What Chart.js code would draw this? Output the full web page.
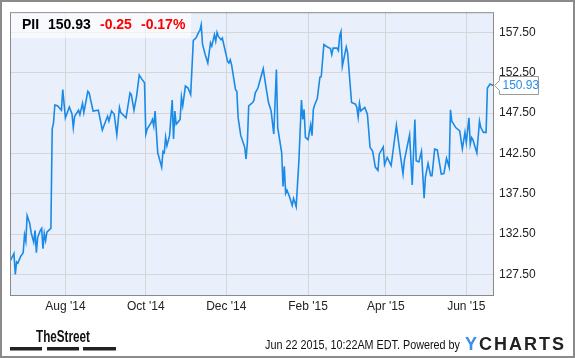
<!DOCTYPE html>
<html>
<head>
<meta charset="utf-8">
<script src="https://cdn.jsdelivr.net/npm/chart.js@4/dist/chart.umd.min.js"></script>
<style>
  html, body { margin: 0; padding: 0; background: #ffffff; }
  canvas { display: block; }
</style>
</head>
<body>
<canvas id="c" width="575" height="358"></canvas>
<script>
// ---- Data (days counted from Aug 1, 2014) ----
const days = [
  -42,-39,-38,-37,-36,-34,-32,-31,-30,-29,
  -27,-26,-24,-23,-22,-21,-19,-18,-17,-16,
  -15,-14,-12,-11,-10,-9,-8,-6,-3,-2,
  0,3,5,6,7,10,11,13,14,17,
  18,21,25,28,31,32,33,35,37,39,
  41,42,46,49,50,52,54,56,58,60,
  61,62,65,66,67,68,70,73,74,75,
  76,77,79,81,82,83,84,86,87,88,
  89,91,93,95,97,99,101,102,103,104,
  106,108,110,111,113,114,115,116,118,119,
  121,123,124,125,126,129,130,131,133,136,
  137,138,139,142,143,144,146,150,152,154,
  156,158,160,161,164,165,166,167,168,170,
  172,173,174,175,177,179,180,181,182,184,
  186,187,188,189,191,193,194,196,199,201,
  202,203,206,207,208,209,210,213,214,217,
  220,221,222,223,224,227,229,231,233,235,
  237,238,241,242,244,247,251,253,256,257,
  261,263,265,266,268,270,272,273,275,277,
  278,280,282,285,287,289,291,292,293,296,
  299,301,303,304,306,307,308,309,312,314,
  315,317,319,320,322,324,325
];
const prices = [
  129.1,130.1,127.5,129.05,128.9,129.7,130.2,132.4,131.6,134.8,
  133.8,132.7,131.5,132.95,130.2,132.1,132.95,133.2,130.7,132.6,
  131.7,132.75,133.05,133.2,145.5,146.3,148.5,148.4,147.85,150.4,
  146.9,148.25,147.4,145.7,147.1,147.85,147.3,148.7,147.55,150.2,
  150.0,147.75,147.85,145.4,146.7,147.1,146.5,147.75,147.35,144.8,
  148.2,147.55,146.9,150.0,149.8,147.85,149.6,152.2,151.7,151.25,
  144.9,145.5,146.3,146.7,145.9,147.75,142.6,140.8,142.75,142.6,
  144.5,143.45,144.7,149.1,144.3,147.75,146.1,146.5,146.7,149.5,
  148.4,150.85,150.6,149.8,156.5,156.8,157.5,157.75,158.45,156.0,
  154.75,153.7,156.2,155.8,157.2,156.4,157.5,157.0,156.6,156.8,
  155.35,153.9,153.7,154.1,153.5,150.4,150.2,146.9,144.7,143.25,
  141.8,143.85,148.4,148.8,149.1,150.0,150.6,153.0,150.85,148.8,
  147.75,144.9,152.9,145.7,142.6,138.4,140.9,137.55,137.95,137.1,
  136.05,136.9,136.45,135.9,141.4,149.1,146.7,147.95,144.5,144.2,
  146.05,144.7,147.95,148.5,149.3,151.95,152.0,156.0,155.65,155.5,
  154.75,155.55,155.55,155.25,157.1,157.6,153.3,155.7,155.0,148.8,
  148.6,148.2,147.0,148.7,147.75,148.2,147.35,143.25,142.75,140.8,
  140.4,142.4,143.3,141.1,142.0,141.0,146.0,143.45,139.95,141.6,
  144.8,138.6,146.7,141.6,141.45,142.75,136.95,139.55,141.25,139.75,
  139.75,143.05,142.95,139.95,140.0,141.9,140.8,147.9,146.5,145.7,
  145.3,143.05,145.1,143.85,146.9,143.65,144.45,144.2,142.55,146.5,
  145.7,145.1,145.1,150.6,151.1,150.95,150.93
];
const xTickDays = [0, 61, 122, 184, 243, 304];
const xTickLabels = ["Aug '14", "Oct '14", "Dec '14", "Feb '15", "Apr '15", "Jun '15"];
const yTickValues = [127.5, 132.5, 137.5, 142.5, 147.5, 152.5, 157.5];

const ticker = "PII";
const lastPrice = "150.93";
const change = "-0.25";
const changePct = "-0.17%";
const timestampText = "Jun 22 2015, 10:22AM EDT. Powered by";
const sourceLeft = "TheStreet";

const FONT = '"Liberation Sans", Arial, sans-serif';
const LINE_BLUE = '#1a8ae6';

function fitText(ctx, text, x, y, width) {
  const w = ctx.measureText(text).width;
  ctx.save();
  ctx.translate(x, y);
  ctx.scale(width / w, 1);
  ctx.fillText(text, 0, 0);
  ctx.restore();
}

const decor = {
  id: 'decor',
  beforeDraw(chart) {
    const ctx = chart.ctx, a = chart.chartArea;
    ctx.save();
    ctx.fillStyle = '#ffffff';
    ctx.fillRect(0, 0, chart.width, chart.height);
    ctx.fillStyle = '#eaf0fb';
    ctx.fillRect(a.left, a.top, a.right - a.left, a.bottom - a.top);
    ctx.restore();
  },
  afterDatasetsDraw(chart) {
    const ctx = chart.ctx, a = chart.chartArea;
    ctx.save();
    // plot frame
    ctx.strokeStyle = '#8a8a8a';
    ctx.lineWidth = 1;
    ctx.strokeRect(a.left + 0.5, a.top + 0.5, a.right - a.left - 1, a.bottom - a.top);
    // header box
    ctx.fillStyle = 'rgba(255,255,255,0.6)';
    ctx.fillRect(a.left + 1, a.top + 1, 180, 25);
    ctx.font = 'bold 14px ' + FONT;
    ctx.textBaseline = 'alphabetic';
    ctx.fillStyle = '#000';
    ctx.fillText(ticker, 22, 28.5);
    ctx.fillText(lastPrice, 48, 28.5);
    ctx.fillStyle = '#ff0000';
    ctx.fillText(change, 100, 28.5);
    ctx.fillText(changePct, 141, 28.5);
    ctx.restore();
  },
  afterDraw(chart) {
    const ctx = chart.ctx, a = chart.chartArea;
    const ys = chart.scales.y;
    ctx.save();
    // price tag
    const py = Math.round(ys.getPixelForValue(prices[prices.length - 1])) + 0.5;
    const bx = a.right + 5.5, bw = 39, bh = 18;
    ctx.beginPath();
    ctx.moveTo(a.right + 0.5, py);
    ctx.lineTo(bx, py - 5);
    ctx.lineTo(bx, py - bh / 2);
    ctx.lineTo(bx + bw, py - bh / 2);
    ctx.lineTo(bx + bw, py + bh / 2);
    ctx.lineTo(bx, py + bh / 2);
    ctx.lineTo(bx, py + 5);
    ctx.closePath();
    ctx.fillStyle = '#ffffff';
    ctx.fill();
    ctx.strokeStyle = '#9a9a9a';
    ctx.lineWidth = 1;
    ctx.stroke();
    ctx.fillStyle = '#2b8de3';
    ctx.font = '12px ' + FONT;
    ctx.textBaseline = 'middle';
    ctx.fillText(lastPrice, bx + 3, py + 0.5);

    // outer frame
    ctx.strokeStyle = '#8a8a8a';
    ctx.lineWidth = 2;
    ctx.strokeRect(1, 1, chart.width - 2, chart.height - 2);

    // footer left: TheStreet
    ctx.textBaseline = 'alphabetic';
    ctx.fillStyle = '#111';
    ctx.font = 'bold 16px ' + FONT;
    fitText(ctx, sourceLeft, 36, 341.7, 54);
    ctx.fillStyle = '#222';
    ctx.fillRect(10, 347, 32, 3.5);
    ctx.fillRect(47, 347, 32, 3.5);
    ctx.fillRect(83, 347, 33, 3.5);

    // footer right
    ctx.fillStyle = '#111';
    ctx.font = '12px ' + FONT;
    fitText(ctx, timestampText, 265, 349, 195);

    // YCHARTS logo
    const letters = ['Y', 'C', 'H', 'A', 'R', 'T', 'S'];
    ctx.font = 'bold 18px ' + FONT;
    const widths = letters.map(l => ctx.measureText(l).width);
    const total = widths.reduce((s, w) => s + w, 0);
    const gap = (99 - total) / (letters.length - 1);
    let lx = 465;
    letters.forEach((l, i) => {
      ctx.fillStyle = i === 0 ? '#3b8fe4' : '#222';
      ctx.fillText(l, lx, 350);
      lx += widths[i] + gap;
    });
    ctx.restore();
  }
};

new Chart(document.getElementById('c'), {
  type: 'line',
  data: {
    datasets: [{
      data: days.map((d, i) => ({ x: d, y: prices[i] })),
      borderColor: LINE_BLUE,
      borderWidth: 1.6,
      pointRadius: 0,
      tension: 0,
      fill: false
    }]
  },
  options: {
    responsive: false,
    animation: false,
    parsing: true,
    layout: { padding: { left: 10, top: 10, right: 0, bottom: 0 } },
    plugins: { legend: { display: false }, tooltip: { enabled: false } },
    scales: {
      x: {
        type: 'linear',
        min: days[0],
        max: days[days.length - 1],
        grid: { color: '#d6d6d6', drawTicks: false },
        border: { display: false },
        afterBuildTicks: s => { s.ticks = xTickDays.map(v => ({ value: v })); },
        afterFit: s => { s.height = 63; },
        ticks: {
          padding: 4,
          color: '#222',
          font: { family: FONT, size: 12 },
          maxRotation: 0,
          autoSkip: false,
          callback: v => xTickLabels[xTickDays.indexOf(v)]
        }
      },
      y: {
        position: 'right',
        min: 124.95,
        max: 160.0,
        grid: { color: '#d6d6d6', drawTicks: false },
        border: { display: false },
        afterBuildTicks: s => { s.ticks = yTickValues.map(v => ({ value: v })); },
        afterFit: s => { s.width = 81; },
        ticks: {
          padding: 5,
          color: '#222',
          font: { family: FONT, size: 12 },
          callback: v => Number(v).toFixed(2)
        }
      }
    }
  },
  plugins: [decor]
});
</script>
</body>
</html>
